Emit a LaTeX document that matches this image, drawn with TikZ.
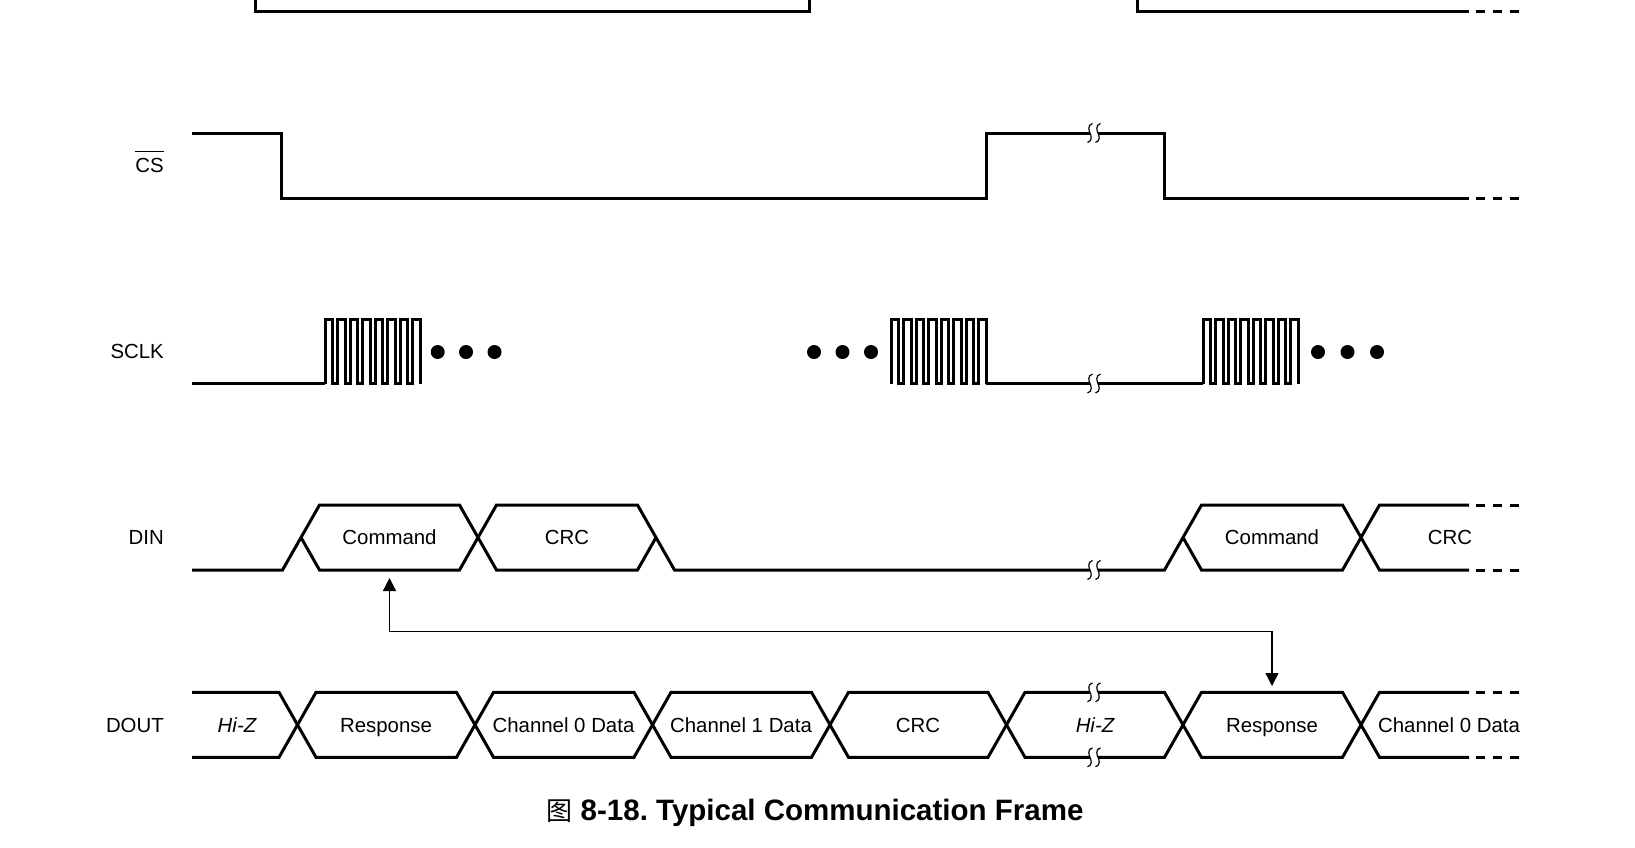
\documentclass[tikz,border=0pt]{standalone}
\usepackage{fontspec}
\setmainfont{Liberation Sans}
\newfontfamily\cjkfont{Noto Sans CJK SC}
\usetikzlibrary{arrows.meta}
\frenchspacing

\begin{document}
\begin{tikzpicture}[x=1pt,y=-1pt]
\tikzset{sig/.style={line width=3pt, line join=miter}}
\tikzset{tail/.style={line width=3pt, dash pattern=on 9pt off 8pt}}
\tikzset{lbl/.style={anchor=east, inner sep=0pt, text height=14.6pt, text depth=0pt, font=\fontsize{20.4}{24}\selectfont}}
\tikzset{cell/.style={inner sep=0pt, text height=14.6pt, text depth=0pt, font=\fontsize{20.4}{24}\selectfont}}
\tikzset{link/.style={line width=1.3pt, {Triangle[length=13pt,width=13pt]}-{Triangle[length=13pt,width=13pt]}}}
\tikzset{brk/.pic={
  \fill[white] (-4,-3) rectangle (4,3);
  \foreach \d in {-4,4}
    \draw[line width=1.2pt] (\d+2.5,-9.5) .. controls (\d-3,-8) and (\d-1,-2) .. (\d,0)
      .. controls (\d+1,2) and (\d+3,8) .. (\d-2.5,9.5);
}}

\useasboundingbox (0,0) rectangle (1635,847);

% previous trace (cut off at the top)
\draw[sig] (255,0) -- (255,11.5) -- (809,11.5) -- (809,0);
\draw[sig] (1137,0) -- (1137,11.5) -- (1469,11.5);
\draw[tail] (1476,11.5) -- (1519,11.5);

% CS
\node[lbl, anchor=base east] (cs) at (164,172.8) {\vbox{\hrule height1.3pt\kern6.2pt\hbox{CS}}};
\draw[sig] (192,133) -- (281.7,133) -- (281.7,198) -- (986,198) -- (986,133) -- (1164,133) -- (1164,198) -- (1469,198);
\draw[tail] (1476,198) -- (1519,198);
\pic at (1094,133) {brk};

% SCLK
\node[lbl] (sclk) at (164,351.5) {SCLK};
\draw[sig] (192,383.5) -- (325,383.5);
\draw[sig] (986,383.5) -- (1203,383.5);
\foreach \s in {325,891,1203}
  \draw[sig] (\s,383.5) \foreach \k in {0,...,6} { -- ++(0,-64) -- ++(7.5,0) -- ++(0,64) -- ++(5,0) }
    -- ++(0,-64) -- ++(7.5,0) -- ++(0,64);
\foreach \x in {437.7,466,494.5,814,842.5,871,1318,1347.5,1377}
  \fill (\x,352) circle[radius=7];
\pic at (1094,383.5) {brk};

% DIN
\node[lbl] (din) at (164,537.5) {DIN};
\draw[sig] (192,570) -- (282.5,570) -- (319.5,505) -- (459.5,505) -- (496.5,570) -- (637.5,570) -- (656,537.5);
\draw[sig] (301,537.5) -- (319.5,570) -- (459.5,570) -- (496.5,505) -- (637.5,505) -- (674.5,570)
  -- (1164.5,570) -- (1201.5,505) -- (1342.5,505) -- (1379.5,570) -- (1469,570);
\draw[sig] (1183,537.5) -- (1201.5,570) -- (1342.5,570) -- (1379.5,505) -- (1469,505);
\draw[tail] (1476,505) -- (1519,505);
\draw[tail] (1476,570) -- (1519,570);
\pic at (1094,570) {brk};
\node[cell] (cmd1) at (389.5,537.5) {Command};
\node[cell] (crc1) at (567,537.5) {CRC};
\node[cell] (cmd2) at (1272,537.5) {Command};
\node[cell] (crc2) at (1450,537.5) {CRC};

% DOUT
\node[lbl] (dout) at (164,724.8) {DOUT};
\draw[sig] (192,692.3) -- (279,692.3) -- (316,757.3) -- (456.5,757.3) -- (493.5,692.3) -- (634,692.3) -- (671,757.3)
  -- (811.5,757.3) -- (848.5,692.3) -- (988,692.3) -- (1025,757.3) -- (1164.5,757.3) -- (1201.5,692.3)
  -- (1342.5,692.3) -- (1379.5,757.3) -- (1469,757.3);
\draw[sig] (192,757.3) -- (279,757.3) -- (316,692.3) -- (456.5,692.3) -- (493.5,757.3) -- (634,757.3) -- (671,692.3)
  -- (811.5,692.3) -- (848.5,757.3) -- (988,757.3) -- (1025,692.3) -- (1164.5,692.3) -- (1201.5,757.3)
  -- (1342.5,757.3) -- (1379.5,692.3) -- (1469,692.3);
\draw[tail] (1476,692.3) -- (1519,692.3);
\draw[tail] (1476,757.3) -- (1519,757.3);
\pic at (1094,692.3) {brk};
\pic at (1094,757.3) {brk};
\node[cell] (hiz1) at (237,724.8) {\itshape Hi-Z};
\node[cell] (resp1) at (386,724.8) {Response};
\node[cell] (ch0a) at (563.5,724.8) {Channel 0 Data};
\node[cell] (ch1) at (741,724.8) {Channel 1 Data};
\node[cell] (crc3) at (918,724.8) {CRC};
\node[cell] (hiz2) at (1095,724.8) {\itshape Hi-Z};
\node[cell] (resp2) at (1272,724.8) {Response};
\node[cell] (ch0b) at (1449,724.8) {Channel 0 Data};

% command -> response
\draw[link] ([yshift=-40.5pt]cmd1.center) |- ([yshift=93pt]resp2.center) -- ([yshift=38.8pt]resp2.center);

% caption
\node[anchor=base, inner sep=0pt, font=\fontsize{29.5}{34}\selectfont\bfseries] (cap) at (815,820.5)
  {{\cjkfont\mdseries\fontsize{26}{30}\selectfont 图} 8-18. Typical Communication Frame};
\end{tikzpicture}
\end{document}
